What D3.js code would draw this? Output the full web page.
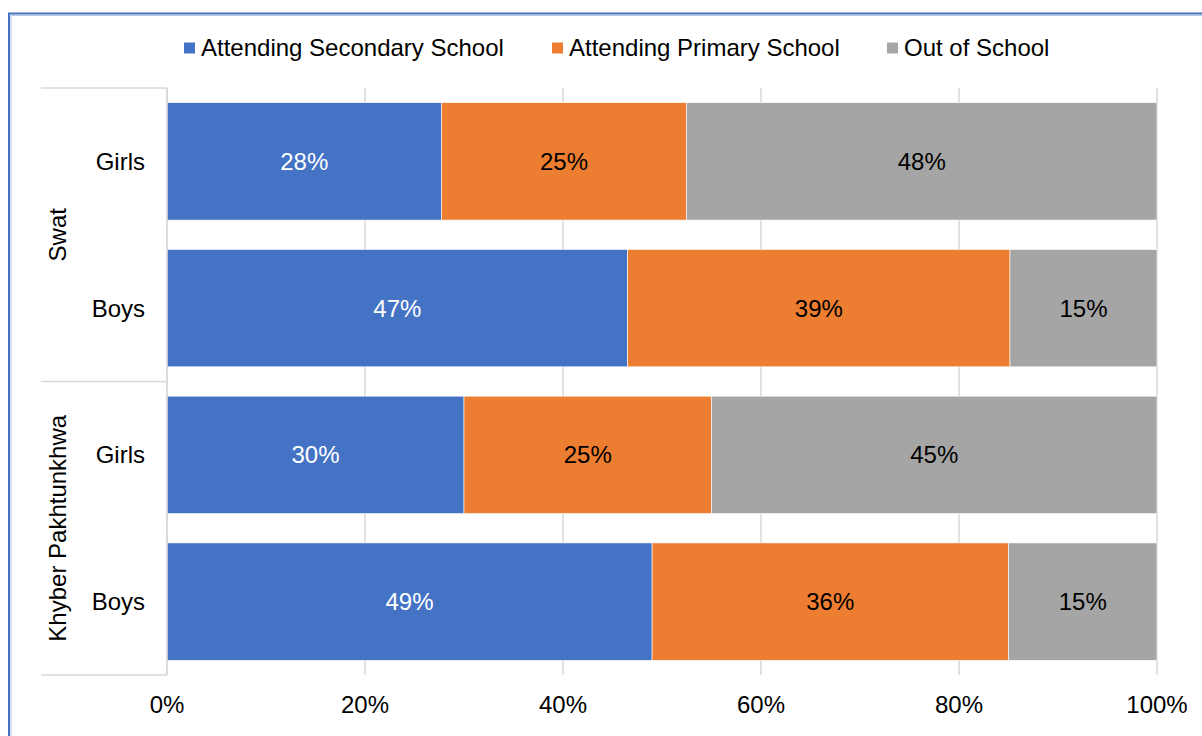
<!DOCTYPE html>
<html>
<head>
<meta charset="utf-8">
<script src="https://cdn.jsdelivr.net/npm/d3@7/dist/d3.min.js"></script>
<style>
  html, body { margin: 0; padding: 0; background: #fff; }
  svg { display: block; font-family: "Liberation Sans", Arial, sans-serif; }
</style>
</head>
<body>
<svg id="chart" width="1202" height="736"></svg>
<script>
// Share of children by schooling status, per region and gender
const regions = ["Swat", "Khyber Pakhtunkhwa"];
const genders = ["Girls", "Boys"];
const seriesNames = ["Attending Secondary School", "Attending Primary School", "Out of School"];
const secondary = [28, 47, 30, 49];
const primary   = [25, 39, 25, 36];
const outOfSchool = [48, 15, 45, 15];
const xTicks = [0, 0.2, 0.4, 0.6, 0.8, 1.0];
const colors = ["#4472C4", "#ED7D31", "#A5A5A5"];
const labelColors = ["#ffffff", "#000000", "#000000"];

const FS = 24;

const rows = [];
regions.forEach((r, i) => genders.forEach((g, j) => {
  const k = i * genders.length + j;
  rows.push({ key: r + "|" + g, region: r, gender: g,
    [seriesNames[0]]: secondary[k], [seriesNames[1]]: primary[k], [seriesNames[2]]: outOfSchool[k] });
}));

const svg = d3.select("#chart");
const margin = { left: 167, right: 45, top: 88, bottom: 61 };
const W = 1202, H = 736;

// Frame around the figure
svg.append("path")
  .attr("d", `M9,${H + 2} V13.5 H${W + 2}`)
  .attr("fill", "none").attr("stroke", "#4472C4").attr("stroke-width", 2);
svg.append("path")
  .attr("d", `M11,${H + 2} V15.5 H${W + 2}`)
  .attr("fill", "none").attr("stroke", "#b4c7e7").attr("stroke-width", 1);

const x = d3.scaleLinear().domain([0, 1]).range([margin.left, W - margin.right]);
const y = d3.scaleBand().domain(rows.map(d => d.key))
  .range([margin.top, H - margin.bottom]).paddingInner(0.2).paddingOuter(0.1);

// Gridlines
svg.append("g").selectAll("line").data(xTicks).join("line")
  .attr("x1", d => x(d)).attr("x2", d => x(d))
  .attr("y1", margin.top).attr("y2", H - margin.bottom)
  .attr("stroke", "#d9d9d9").attr("stroke-width", 1.5);

// Stacked bars (100%)
const stack = d3.stack().keys(seriesNames).offset(d3.stackOffsetExpand);
const layers = stack(rows);

const layerG = svg.append("g").selectAll("g").data(layers).join("g")
  .attr("fill", (d, i) => colors[i]);
layerG.selectAll("rect").data(d => d).join("rect")
  .attr("x", d => x(d[0])).attr("width", d => x(d[1]) - x(d[0]))
  .attr("y", d => y(d.data.key)).attr("height", y.bandwidth())
  .attr("stroke", "#ffffff").attr("stroke-width", 0.6);

// Value labels
layers.forEach((layer, i) => {
  svg.append("g").selectAll("text").data(layer).join("text")
    .attr("x", d => (x(d[0]) + x(d[1])) / 2)
    .attr("y", d => y(d.data.key) + y.bandwidth() / 2)
    .attr("dy", "0.35em").attr("text-anchor", "middle")
    .attr("font-size", FS).attr("fill", labelColors[i])
    .text(d => d.data[layer.key] + "%");
});

// Category axis: inner (gender) labels
svg.append("g").selectAll("text").data(rows).join("text")
  .attr("x", 145).attr("y", d => y(d.key) + y.bandwidth() / 2)
  .attr("dy", "0.35em").attr("text-anchor", "end")
  .attr("font-size", FS).attr("fill", "#000")
  .text(d => d.gender);

// Category axis: region group dividers and labels
const axisG = svg.append("g").attr("stroke", "#d9d9d9").attr("stroke-width", 1.5);
const step = y.step();
const groupEdges = regions.map((r, i) => margin.top + i * genders.length * step);
groupEdges.push(H - margin.bottom);
axisG.selectAll("line.edge").data(groupEdges).join("line")
  .attr("x1", 41).attr("x2", margin.left).attr("y1", d => d).attr("y2", d => d);
axisG.append("line")
  .attr("x1", margin.left).attr("x2", margin.left)
  .attr("y1", margin.top).attr("y2", H - margin.bottom);

svg.append("g").selectAll("text").data(regions).join("text")
  .attr("transform", (d, i) => `translate(58,${(groupEdges[i] + groupEdges[i + 1]) / 2}) rotate(-90)`)
  .attr("dy", "0.35em").attr("text-anchor", "middle")
  .attr("font-size", FS).attr("fill", "#000")
  .text(d => d);

// Value axis tick labels
svg.append("g").selectAll("text").data(xTicks).join("text")
  .attr("x", d => x(d)).attr("y", 705).attr("dy", "0.35em")
  .attr("text-anchor", "middle").attr("font-size", FS).attr("fill", "#000")
  .text(d3.format(".0%"));

// Legend
const legendX = [184, 552, 887];
const legend = svg.append("g").selectAll("g").data(seriesNames).join("g")
  .attr("transform", (d, i) => `translate(${legendX[i]},48)`);
legend.append("rect").attr("x", 0).attr("y", -5.5).attr("width", 11).attr("height", 11)
  .attr("fill", (d, i) => colors[i]);
legend.append("text").attr("x", 17).attr("dy", "0.35em")
  .attr("font-size", FS).attr("fill", "#000").text(d => d);
</script>
</body>
</html>
